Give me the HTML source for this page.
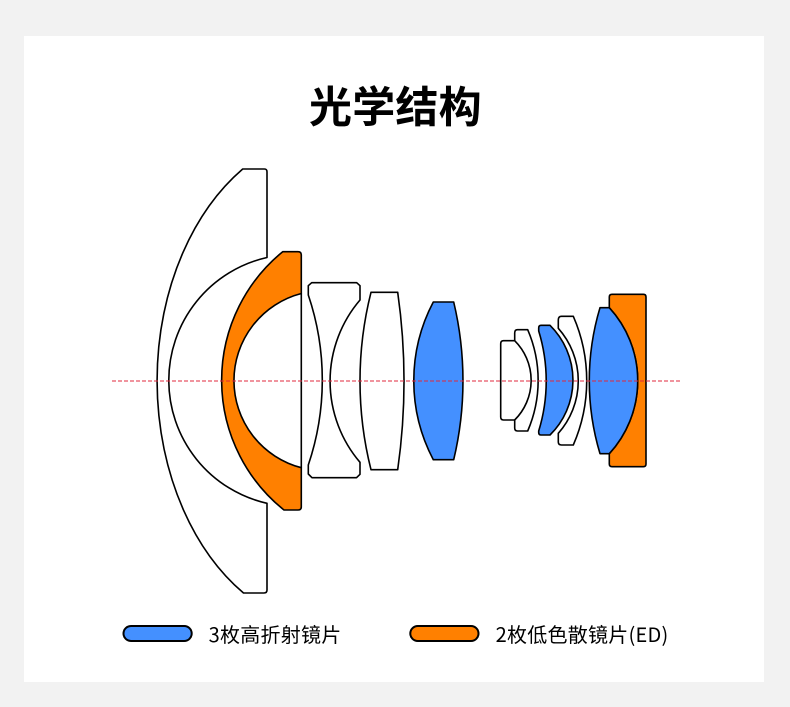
<!DOCTYPE html>
<html>
<head>
<meta charset="utf-8">
<style>
html,body{margin:0;padding:0;background:#f2f2f2;}
svg{display:block;}
text{font-family:"Noto Sans CJK SC","Liberation Sans",sans-serif;fill:#000;}
.l{stroke:#000;stroke-width:1.6;stroke-linejoin:round;fill:#fff;}
.b{fill:#4490ff;}
.o{fill:#ff8000;}
</style>
</head>
<body>
<svg width="790" height="707" viewBox="0 0 790 707" xmlns="http://www.w3.org/2000/svg">
<rect width="790" height="707" fill="#f2f2f2"/>
<rect x="24" y="36" width="740" height="646" fill="#fff"/>
<text x="309" y="122.5" font-size="43" font-weight="700" letter-spacing="0.2">光学结构</text>

<!-- lens 1 -->
<path class="l" d="M242.7 169 L264.5 169 Q267 169 267 172 L267 257.5 A126 126 0 0 0 267 503.3 L267 590 Q267 593 264 593 L243.5 593 A183 250 0 0 1 242.7 169 Z"/>
<!-- lens 2 -->
<path class="l o" d="M282.7 251.7 L298 251.7 Q301.3 251.7 301.3 255 L301.3 293.5 A90 90 0 0 0 301.3 467.7 L301.3 507 Q301.3 510 298 510 L284 510 A166 166 0 0 1 282.7 251.7 Z"/>
<path d="M301.3 293.5 V467.7" stroke="#000" stroke-width="1.6" fill="none"/>
<!-- lens 3 -->
<path class="l" d="M311.7 282.7 L356.7 282.7 L360 285.7 L360 300 A125 125 0 0 0 360 462.3 L360 474.3 L356.5 477.7 L312 477.7 L308.3 474 L308.3 465 A265 265 0 0 0 308.3 295 L308.3 285.7 Z"/>
<!-- lens 4 -->
<path class="l" d="M371 292.3 L397.7 292.3 A628 628 0 0 1 397.7 469.7 L371 469.7 A363 363 0 0 1 371 292.3 Z"/>
<!-- lens 5 -->
<path class="l b" d="M433.3 302 L453.7 302 A340 340 0 0 1 453.7 459.7 L433.3 459.7 A169 169 0 0 1 433.3 302 Z"/>
<!-- lens 6 -->
<path class="l" d="M503.5 340.7 L515 340.7 A56 56 0 0 1 515 420 L503.5 420 Q500.7 420 500.7 417 L500.7 343.7 Q500.7 340.7 503.5 340.7 Z"/>
<!-- lens 7 -->
<path class="l" d="M514.7 333 Q514.7 329.7 517.5 329.7 L527.7 329.7 A128 128 0 0 1 527.7 431 L517.5 431 Q514.7 431 514.7 428 L514.7 420 A56 56 0 0 0 514.7 340.7 Z"/>
<!-- lens 8 -->
<path class="l b" d="M538.7 328 Q538.7 325.3 541 325.3 L550 325.3 A77 77 0 0 1 550 435 L541 435 Q538.7 435 538.7 432.5 L538.7 431 A170 170 0 0 0 538.7 331 Z"/>
<!-- lens 9 -->
<path class="l" d="M558.3 320 Q558.3 316.3 561.5 316.3 L573.3 316.3 A161 161 0 0 1 573.3 445 L561.5 445 Q558.3 445 558.3 442 L558.3 433.3 A79 79 0 0 0 558.3 328.3 Z"/>
<!-- lens 11 -->
<path class="l o" d="M609.3 297 Q609.3 294.3 612 294.3 L643.5 294.3 Q646 294.3 646 297 L646 464 Q646 466.7 643.5 466.7 L612 466.7 Q609.3 466.7 609.3 464 L609.3 453.7 A108 108 0 0 0 609.3 307.7 Z"/>
<!-- lens 10 -->
<path class="l b" d="M600 307.7 L609.3 307.7 A108 108 0 0 1 609.3 453.7 L600 453.7 A254 254 0 0 1 600 307.7 Z"/>

<!-- axis -->
<line x1="112" y1="381" x2="680" y2="381" stroke="#e0283c" stroke-width="1.1" stroke-dasharray="4 2"/>

<!-- legend -->
<rect x="123.5" y="626" width="68.2" height="15" rx="7.5" fill="#4490ff" stroke="#000" stroke-width="2"/>
<text x="208.6" y="642" font-size="20" letter-spacing="0.25">3枚高折射镜片</text>
<rect x="410.3" y="626" width="68.2" height="15" rx="7.5" fill="#ff8000" stroke="#000" stroke-width="2"/>
<text x="495.6" y="642" font-size="20" letter-spacing="0.25">2枚低色散镜片(ED)</text>
</svg>
</body>
</html>
